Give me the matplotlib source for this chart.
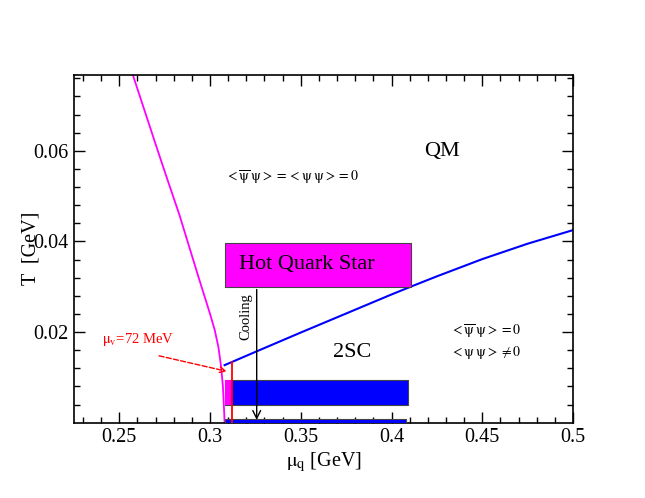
import matplotlib
matplotlib.use('Agg')
import matplotlib.pyplot as plt
from matplotlib.patches import Rectangle

plt.rcParams['font.family'] = ['Liberation Serif', 'DejaVu Serif']
plt.rcParams['mathtext.fontset'] = 'stix'

# chiral transition line (magenta)
chiral_T = [0.0768, 0.06, 0.0533, 0.046, 0.0387, 0.0314, 0.024, 0.0204, 0.0167, 0.0123, 0.0079, 0.0021, 0.0]
chiral_mu = [0.2574, 0.2712, 0.2768, 0.2830, 0.2886, 0.2942, 0.3000, 0.3026, 0.3046, 0.3061, 0.3071, 0.3078, 0.3080]

# 2SC transition line (blue)
sc_mu = [0.3080, 0.3254, 0.35, 0.375, 0.4, 0.4105, 0.425, 0.45, 0.475, 0.5]
sc_T = [0.0127, 0.0157, 0.0199, 0.0241, 0.0283, 0.0300, 0.0323, 0.0361, 0.0395, 0.0425]

# boxes: (mu_left, mu_right, T_bottom, T_top)
hot_box = (0.308, 0.4105, 0.03, 0.0397)
cold_box = (0.3085, 0.4092, 0.0038, 0.0095)
cold_box_pink = (0.3085, 0.312, 0.0038, 0.0095)
bottom_bar = (0.308, 0.4082, -0.001, 0.0008)

mu_v_line = 0.312
mu_v_top = 0.0134
cooling_mu = 0.3257

fig = plt.figure(figsize=(6.45, 4.98), dpi=100)
ax = fig.add_axes([0.1147, 0.1512, 0.7736, 0.6988])

ax.plot(chiral_mu, chiral_T, color='#ff00ff', lw=1.3)
ax.plot(sc_mu, sc_T, color='#0000ff', lw=1.5)

def box(b, fc):
    r = Rectangle((b[0], b[2]), b[1] - b[0], b[3] - b[2], facecolor=fc,
                  edgecolor='#444444', lw=0.8, zorder=3)
    ax.add_patch(r)

box(hot_box, '#ff00ff')
box(cold_box, '#0000ff')
ax.add_patch(Rectangle((cold_box_pink[0], cold_box_pink[2]), cold_box_pink[1] - cold_box_pink[0],
                       cold_box_pink[3] - cold_box_pink[2], facecolor='#ff00ff', lw=0, zorder=3.5))
box(bottom_bar, '#0000ff')

ax.plot([mu_v_line, mu_v_line], [0, mu_v_top], color='#ff0000', lw=1.3, zorder=4)

# cooling arrow
ax.annotate('', xy=(cooling_mu, 0.0), xytext=(cooling_mu, hot_box[2]),
            arrowprops=dict(arrowstyle='->', color='black', lw=1.0, mutation_scale=14),
            zorder=5)
ax.text(0.3199, 0.0233, 'Cooling', rotation=90, ha='center', va='center', fontsize=10.5)

# mu_v annotation
ax.annotate('', xy=(0.3107, 0.0112), xytext=(0.2704, 0.0149),
            arrowprops=dict(arrowstyle='->', color='#ff0000', lw=1.0, ls='--',
                            mutation_scale=10))
ax.text(0.2402, 0.0183, r'$\mathrm{\mu_v}$=72 MeV', color='#ff0000', fontsize=10.5,
        ha='left', va='center')

ax.text(0.4179, 0.0599, 'QM', fontsize=16, ha='left', va='center')
ax.text(0.3675, 0.0156, '2SC', fontsize=16, ha='left', va='center')
ax.text(0.3159, 0.0349, 'Hot Quark Star', fontsize=16, ha='left', va='center', zorder=6)

ax.text(0.3080, 0.0541, r'$<\overline{\mathrm{\psi}}\;\mathrm{\psi}> = <\mathrm{\psi}\;\mathrm{\psi}> = 0$',
        fontsize=10, ha='left', va='center')
ax.text(0.4325, 0.0200, r'$<\overline{\mathrm{\psi}}\;\mathrm{\psi}> = 0$',
        fontsize=10, ha='left', va='center')
ax.text(0.4325, 0.0156, r'$<\mathrm{\psi}\;\mathrm{\psi}> \neq 0$',
        fontsize=10, ha='left', va='center')

ax.set_xlim(0.225, 0.5)
ax.set_ylim(0.0, 0.0768)
ax.set_xticks([0.25, 0.3, 0.35, 0.4, 0.45, 0.5])
ax.set_xticklabels(['0.25', '0.3', '0.35', '0.4', '0.45', '0.5'])
ax.set_xticks([0.23 + 0.01 * i for i in range(28)], minor=True)
ax.set_yticks([0.02, 0.04, 0.06])
ax.set_yticklabels(['0.02', '0.04', '0.06'])
ax.set_yticks([0.004 * i for i in range(1, 20)], minor=True)
ax.tick_params(which='both', direction='in', top=True, right=True, labelsize=14.5, width=1.0)
ax.tick_params(which='major', length=8, pad=4)
ax.tick_params(which='minor', length=4.3)
for s in ax.spines.values():
    s.set_linewidth(1.2)

ax.set_xlabel(r'$\mathrm{\mu_q}$ [GeV]', fontsize=14.5, labelpad=2)
ax.set_ylabel('T  [GeV]', fontsize=14.5, labelpad=-5)

fig.savefig('out.png', dpi=100)
